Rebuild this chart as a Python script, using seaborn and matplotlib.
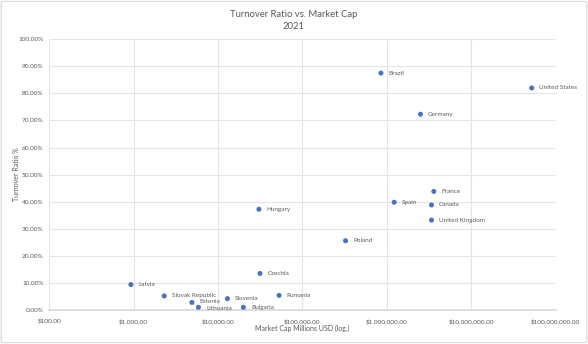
import matplotlib
matplotlib.use("Agg")
import matplotlib.pyplot as plt
import seaborn as sns
import pandas as pd
from matplotlib.ticker import FuncFormatter, FixedLocator
from matplotlib.patches import FancyBboxPatch

countries = ["Brazil", "United States", "Germany", "France", "Spain", "Canada",
             "United Kingdom", "Hungary", "Poland", "Czechia", "Latvia",
             "Slovak Republic", "Estonia", "Lithuania", "Slovenia", "Bulgaria", "Romania"]
market_cap = [851000, 52000000, 2500000, 3600000, 1220000, 3380000,
              3380000, 30500, 324000, 31400, 927,
              2300, 4900, 5850, 12900, 19950, 52800]
turnover = [0.875, 0.820, 0.723, 0.438, 0.398, 0.388,
            0.332, 0.372, 0.256, 0.135, 0.094,
            0.052, 0.028, 0.010, 0.042, 0.010, 0.054]
x_ticks = [100, 1000, 10000, 100000, 1000000, 10000000, 100000000]
y_ticks = [0, 0.1, 0.2, 0.3, 0.4, 0.5, 0.6, 0.7, 0.8, 0.9, 1.0]

df = pd.DataFrame({"country": countries, "cap": market_cap, "ratio": turnover})

sns.set_theme(style="white")
plt.rcParams["font.family"] = ["Lato", "DejaVu Sans"]
txt = "#595959"

fig = plt.figure(figsize=(5.88, 3.44), dpi=100)
ax = fig.add_axes([0.0838, 0.0988, 0.8612, 0.7872])

fig.patches.append(FancyBboxPatch((0.002, 0.004), 0.996, 0.992, boxstyle="round,pad=0,rounding_size=0.005",
                                  transform=fig.transFigure, fill=False, edgecolor="#D9D9D9", linewidth=0.8))

sns.scatterplot(data=df, x="cap", y="ratio", ax=ax, color="#4472C4", s=13,
                edgecolor="none", zorder=3, legend=False)
ax.set_xscale("log")
ax.set_xlim(100, 100000000)
ax.set_ylim(0, 1.0)
ax.xaxis.set_major_locator(FixedLocator(x_ticks))
ax.xaxis.set_minor_locator(FixedLocator([]))
ax.yaxis.set_major_locator(FixedLocator(y_ticks))
ax.xaxis.set_major_formatter(FuncFormatter(lambda v, p: "${:,.2f}".format(v)))
ax.yaxis.set_major_formatter(FuncFormatter(lambda v, p: "{:.2f}%".format(v * 100)))
ax.grid(True, color="#E4E4E4", linewidth=0.8)
ax.set_axisbelow(True)
for s in ax.spines.values():
    s.set_visible(False)
ax.spines["bottom"].set_visible(True)
ax.spines["bottom"].set_color("#D9D9D9")
ax.tick_params(axis="x", labelsize=4.6, colors=txt, length=0, pad=6)
ax.tick_params(axis="y", labelsize=4.6, colors=txt, length=0, pad=4)

nudge = {"Estonia": 0.4, "Lithuania": -0.6}
for c, xv, yv in zip(countries, market_cap, turnover):
    ax.annotate(c, (xv, yv), xytext=(5.5, nudge.get(c, 0)), textcoords="offset points",
                va="center", ha="left", fontsize=4.6, color=txt)

ax.set_xlabel("Market Cap Millions USD (log.)", fontsize=5.0, color=txt)
ax.xaxis.set_label_coords(0.5, -0.056)
ax.set_ylabel("Turnover Ratio %", fontsize=5.0, color=txt)
ax.yaxis.set_label_coords(-0.058, 0.5)
fig.text(0.5, 0.958, "Turnover Ratio vs. Market Cap", ha="center", va="center", fontsize=6.8, color=txt)
fig.text(0.5, 0.923, "2021", ha="center", va="center", fontsize=6.8, color=txt)

fig.savefig("out.png", dpi=100, facecolor="white")
